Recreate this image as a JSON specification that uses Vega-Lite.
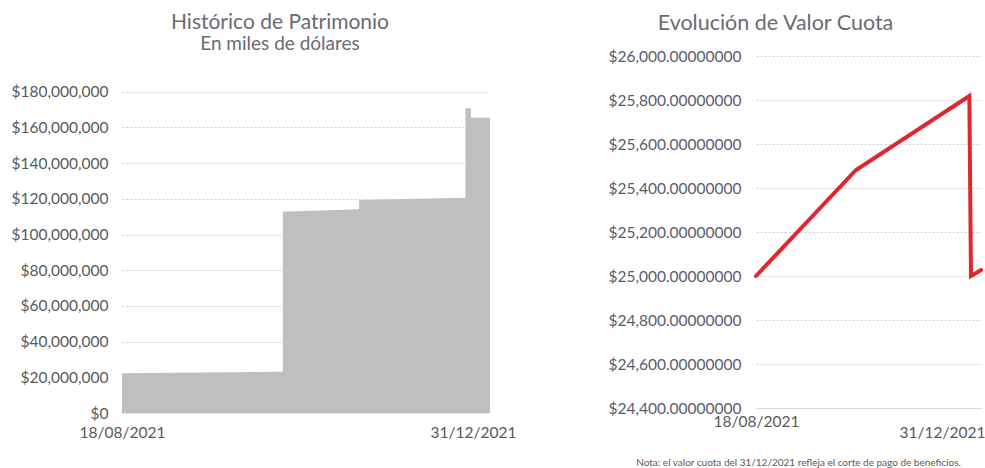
{
  "$schema": "https://vega.github.io/schema/vega-lite/v6.json",
  "background": "white",
  "padding": {"left": 11, "top": 12, "right": 5, "bottom": 5},
  "spacing": 91,
  "config": {
    "view": {"stroke": null},
    "font": "Lato",
    "axis": {"labelFont": "Lato", "labelColor": "#595959", "titleFont": "Lato"},
    "title": {"font": "Lato", "color": "#6b6b73", "fontWeight": "normal", "subtitleFont": "Lato", "subtitleColor": "#6b6b73"}
  },
  "datasets": {
    "patrimonio": [
      {"fecha": "2021-08-18", "valor": 22200000},
      {"fecha": "2021-10-16", "valor": 23100000},
      {"fecha": "2021-10-16", "valor": 112800000},
      {"fecha": "2021-11-13", "valor": 114100000},
      {"fecha": "2021-11-13", "valor": 119300000},
      {"fecha": "2021-12-22", "valor": 120600000},
      {"fecha": "2021-12-22", "valor": 170700000},
      {"fecha": "2021-12-24", "valor": 170700000},
      {"fecha": "2021-12-24", "valor": 165400000},
      {"fecha": "2021-12-31", "valor": 165400000}
    ],
    "cuota": [
      {"fecha": "2021-08-18", "valor": 25000},
      {"fecha": "2021-10-17", "valor": 25482},
      {"fecha": "2021-12-24", "valor": 25818},
      {"fecha": "2021-12-25", "valor": 25000},
      {"fecha": "2021-12-31", "valor": 25027}
    ]
  },
  "hconcat": [
    {
      "width": 368,
      "height": 357,
      "title": {
        "text": "Histórico de Patrimonio",
        "subtitle": "En miles de dólares",
        "fontSize": 21,
        "subtitleFontSize": 19,
        "subtitlePadding": 2,
        "anchor": "middle",
        "frame": "group",
        "dx": -26,
        "offset": 2
      },
      "data": {"name": "patrimonio"},
      "mark": {"type": "area", "color": "#bfbfbf", "interpolate": "linear"},
      "encoding": {
        "x": {
          "field": "fecha",
          "type": "temporal",
          "scale": {"type": "utc", "domain": [{"year": 2021, "month": 8, "date": 18, "utc": true}, {"year": 2021, "month": 12, "date": 31, "utc": true}]},
          "axis": {
            "title": null,
            "grid": false,
            "domain": false,
            "ticks": false,
            "values": [{"year": 2021, "month": 8, "date": 18, "utc": true}, {"year": 2021, "month": 12, "date": 31, "utc": true}],
            "labelExpr": "utcFormat(datum.value, '%d/%m/%Y')",
            "labelFontSize": 15.5,
            "labelPadding": 12,
            "labelFlush": false,
            "labelOffset": {"condition": {"test": "utcmonth(datum.value) == 11", "value": -17}, "value": 0}
          }
        },
        "y": {
          "field": "valor",
          "type": "quantitative",
          "stack": null,
          "scale": {"domain": [0, 200000000], "nice": false},
          "axis": {
            "title": null,
            "domain": false,
            "ticks": false,
            "values": [0, 20000000, 40000000, 60000000, 80000000, 100000000, 120000000, 140000000, 160000000, 180000000],
            "format": "$,.0f",
            "labelFontSize": 15.5,
            "labelPadding": 14,
            "gridColor": "#cfcfcf",
            "gridDash": [2, 2],
            "gridWidth": 1
          }
        }
      }
    },
    {
      "width": 225,
      "height": 352,
      "title": {
        "text": "Evolución de Valor Cuota",
        "fontSize": 21.5,
        "anchor": "middle",
        "frame": "group",
        "dx": -93,
        "offset": 15
      },
      "data": {"name": "cuota"},
      "mark": {"type": "line", "color": "#e0262e", "strokeWidth": 4, "strokeCap": "round", "strokeJoin": "miter"},
      "encoding": {
        "x": {
          "field": "fecha",
          "type": "temporal",
          "scale": {"type": "utc", "domain": [{"year": 2021, "month": 8, "date": 18, "utc": true}, {"year": 2021, "month": 12, "date": 31, "utc": true}]},
          "axis": {
            "title": "Nota: el valor cuota del 31/12/2021 refleja el corte de pago de beneficios.",
            "titleFontSize": 10,
            "titleFontWeight": "normal",
            "titleColor": "#595959",
            "titleX": 42,
            "titleY": 54,
            "titleAlign": "center",
            "titleBaseline": "middle",
            "grid": false,
            "domain": true,
            "domainColor": "#d9d9d9",
            "domainWidth": 1,
            "ticks": false,
            "values": [{"year": 2021, "month": 8, "date": 18, "utc": true}, {"year": 2021, "month": 12, "date": 31, "utc": true}],
            "labelExpr": "utcFormat(datum.value, '%d/%m/%Y')",
            "labelFontSize": 15.5,
            "labelFlush": false,
            "labelPadding": {"condition": {"test": "utcmonth(datum.value) == 11", "value": 17}, "value": 6},
            "labelOffset": {"condition": {"test": "utcmonth(datum.value) == 11", "value": -39}, "value": 0}
          }
        },
        "y": {
          "field": "valor",
          "type": "quantitative",
          "scale": {"domain": [24400, 26000], "nice": false, "zero": false},
          "axis": {
            "title": null,
            "domain": false,
            "ticks": false,
            "values": [24400, 24600, 24800, 25000, 25200, 25400, 25600, 25800, 26000],
            "format": "$,.8f",
            "labelFontSize": 15.5,
            "labelColor": "#5a5a6e",
            "labelPadding": 15,
            "gridColor": "#cfcfcf",
            "gridDash": [2, 2],
            "gridWidth": 1
          }
        }
      }
    }
  ]
}
